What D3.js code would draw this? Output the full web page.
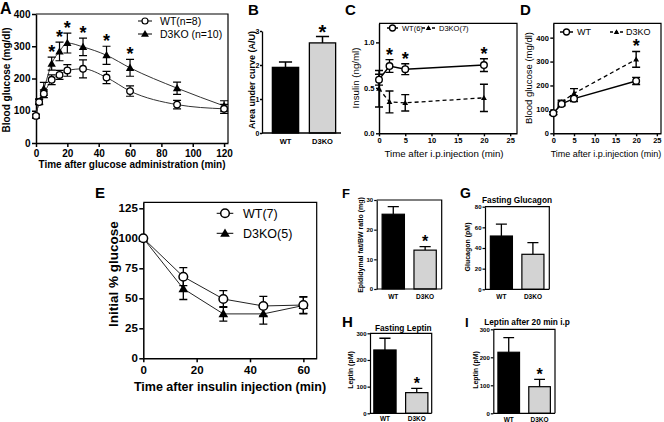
<!DOCTYPE html>
<html><head><meta charset="utf-8">
<script src="https://cdn.jsdelivr.net/npm/d3@7"></script>
<style>
body{margin:0;background:#fff}
svg{display:block}
</style></head><body>
<svg id="c" width="664" height="422"></svg>
<script>
// ---------- DATA ----------
const groups = ["WT", "D3KO"];
// A: glucose tolerance
const timesA = [0, 2, 5, 10, 15, 20, 30, 45, 60, 90, 120];
const wtA = [84, 127, 153, 196, 211, 225, 230, 203, 161, 119, 106];
const wtAErr = [5, 8, 12, 15, 14, 18, 28, 19, 16, 13, 14];
const koA = [84, 129, 168, 246, 284, 310, 298, 272, 233, 170, 115];
const koAErr = [5, 8, 20, 20, 29, 31, 27, 28, 26, 19, 16];
const starsA = [10, 15, 20, 30, 45, 60];
const ticksAx = [0, 20, 40, 60, 80, 100, 120];
const ticksAy = [0, 100, 200, 300, 400];
// B: area under curve
const aucB = [1.93, 2.65];
const aucBErr = [0.16, 0.19];
const ticksBy = [0, 1, 2, 3];
// C: insulin
const timesCD = [0, 2, 5, 20];
const wtC = [0.59, 0.74, 0.705, 0.75];
const wtCErr = [0.06, 0.07, 0.06, 0.07];
const koC = [0.49, 0.345, 0.335, 0.39];
const koCErr = [0.2, 0.12, 0.09, 0.15];
const starsC = [2, 5, 20];
const ticksCDx = [0, 5, 10, 15, 20, 25];
const ticksCy = [0, 0.5, 1.0];
// D: blood glucose after i.p.
const wtD = [84, 123, 145, 219];
const wtDErr = [6, 8, 12, 15];
const koD = [84, 130, 167, 309];
const koDErr = [6, 8, 20, 33];
const starsD = [20];
const ticksDy = [0, 100, 200, 300, 400];
// E: insulin tolerance
const timesE = [0, 15, 30, 45, 60];
const wtE = [100, 68, 49.4, 43.6, 44.4];
const wtEErr = [0, 7.5, 7, 8, 7];
const koE = [100, 58, 37, 37, 44];
const koEErr = [0, 9, 6, 8.5, 7];
const ticksEx = [0, 20, 40, 60];
const ticksEy = [0, 25, 50, 75, 100, 125];
// F-I bars
const fatF = [25.2, 13.1], fatFErr = [2.6, 1.2], ticksFy = [0, 10, 20, 30];
const glucagonG = [51.6, 33.9], glucagonGErr = [11.6, 11.3], ticksGy = [0, 20, 40, 60, 80];
const leptinH = [237.5, 77.5], leptinHErr = [44, 16], ticksHy = [0, 100, 200, 300];
const leptinI = [218, 95], leptinIErr = [52, 26], ticksIy = [0, 100, 200, 300];

// ---------- DRAWING ----------
const FONT = '"Liberation Sans", Arial, Helvetica, sans-serif';
const svg = d3.select("#c").attr("font-family", FONT);

function text(x, y, s, size, bold, anchor) {
  return svg.append("text").attr("x", x).attr("y", y).text(s)
    .attr("font-size", size).attr("font-weight", bold ? "bold" : "normal")
    .attr("text-anchor", anchor || "start").attr("fill", "#000");
}
function vtext(x, y, s, size, bold) {
  return svg.append("text").attr("transform", `translate(${x},${y}) rotate(-90)`)
    .attr("text-anchor", "middle").text(s)
    .attr("font-size", size).attr("font-weight", bold ? "bold" : "normal").attr("fill", "#000");
}
function styleAxis(g, fs, bold, sw) {
  g.attr("font-family", FONT).attr("font-size", fs);
  g.select(".domain").attr("stroke", "#000").attr("stroke-width", sw);
  g.selectAll(".tick line").attr("stroke", "#000").attr("stroke-width", sw);
  g.selectAll(".tick text").attr("fill", "#000").attr("font-weight", bold ? "bold" : "normal");
}
function star(x, cy, size) {
  text(x, cy + size * 0.55, "*", size, true, "middle");
}
function marker(g, type, cx, cy, s, sw) {
  if (type === "circle") {
    g.append("circle").attr("cx", cx).attr("cy", cy).attr("r", s)
      .attr("fill", "#fff").attr("stroke", "#000").attr("stroke-width", sw);
  } else {
    g.append("path").attr("d", d3.symbol(d3.symbolTriangle, s * s * 1.9)())
      .attr("transform", `translate(${cx},${cy + s * 0.15})`).attr("fill", "#000");
  }
}

function linePanel(o) {
  const x = d3.scaleLinear().domain(o.xd).range([o.L, o.R]);
  const y = d3.scaleLinear().domain(o.yd).range([o.B, o.T]);
  const g = svg.append("g");
  g.append("path").attr("d", `M${o.L},${o.T}H${o.R}V${o.B}`).attr("fill", "none")
    .attr("stroke", "#000").attr("stroke-width", o.boxW);
  const gx = g.append("g").attr("transform", `translate(0,${o.B})`)
    .call(d3.axisBottom(x).tickValues(o.xt).tickSize(o.tick).tickSizeOuter(0).tickPadding(o.xpad));
  styleAxis(gx, o.tfs, true, o.axW);
  const gy = g.append("g").attr("transform", `translate(${o.L},0)`)
    .call(d3.axisLeft(y).tickValues(o.yt).tickSize(o.tick).tickSizeOuter(0).tickPadding(o.ypad)
      .tickFormat(o.yfmt || d3.format("d")));
  styleAxis(gy, o.tfs, true, o.axW);
  o.series.forEach(s => {
    const pts = s.t.map((t, i) => [x(t), y(s.v[i])]);
    g.append("path").attr("d", d3.line().curve(o.curve || d3.curveLinear)(pts))
      .attr("fill", "none").attr("stroke", o.lineColor || "#000").attr("stroke-width", s.lw)
      .attr("stroke-dasharray", s.dash || null);
  });
  o.series.forEach(s => {
    s.t.forEach((t, i) => {
      const e = s.e[i]; if (!e) return;
      const cx = x(t), y1 = y(s.v[i] + e), y2 = y(s.v[i] - e), c = o.cap / 2;
      g.append("path").attr("d", `M${cx},${y1}V${y2}M${cx - c},${y1}H${cx + c}M${cx - c},${y2}H${cx + c}`)
        .attr("fill", "none").attr("stroke", "#000").attr("stroke-width", o.errW);
    });
  });
  o.series.slice().reverse().forEach(s => {
    s.t.forEach((t, i) => marker(g, s.m, x(t), y(s.v[i]), s.ms, o.mW));
  });
  if (o.stars) o.stars.forEach(t => {
    const i = o.starSeries.t.indexOf(t);
    star(x(t), y(o.starSeries.v[i] + o.starSeries.e[i]) - o.starGap, o.starSize);
  });
  return { x, y };
}

function legendRow(x1, x2, y, type, ms, lw, dash, label, tx, fs, mW) {
  svg.append("path").attr("d", `M${x1},${y}H${x2}`).attr("stroke", "#000")
    .attr("stroke-width", lw).attr("stroke-dasharray", dash || null);
  marker(svg, type, (x1 + x2) / 2, y, ms, mW);
  text(tx, y + fs * 0.36, label, fs, false);
}

function barPanel(o) {
  const x = d3.scaleBand().domain(groups).range([o.L, o.R]).paddingInner(o.pi).paddingOuter(o.po);
  const y = d3.scaleLinear().domain(o.yd).range([o.B, o.T]);
  const g = svg.append("g");
  if (o.box) g.append("path").attr("d", `M${o.L},${o.T}H${o.R}V${o.B}`).attr("fill", "none")
    .attr("stroke", "#000").attr("stroke-width", o.boxW);
  const bw = x.bandwidth();
  groups.forEach((k, i) => {
    const cx = x(k) + bw / 2, top = y(o.v[i]), et = y(o.v[i] + o.e[i]);
    g.append("path").attr("d", `M${cx},${top}V${et}M${cx - bw * 0.25},${et}H${cx + bw * 0.25}`)
      .attr("stroke", "#000").attr("stroke-width", o.errW).attr("fill", "none");
    g.append("rect").attr("x", x(k)).attr("y", top).attr("width", bw).attr("height", o.B - top)
      .attr("fill", i === 0 ? "#000" : "#d3d3d3").attr("stroke", "#000").attr("stroke-width", o.barW);
    text(cx, o.labY, k, o.cfs, true, "middle");
  });
  g.append("path").attr("d", `M${o.L},${o.B}H${o.axR || o.R}`).attr("stroke", "#000").attr("stroke-width", o.axW);
  const gy = g.append("g").attr("transform", `translate(${o.L},0)`)
    .call(d3.axisLeft(y).tickValues(o.yt).tickSize(o.tick).tickSizeOuter(0).tickPadding(o.ypad != null ? o.ypad : 1).tickFormat(d3.format("d")));
  styleAxis(gy, o.tfs, true, o.axW);
  if (o.starIdx != null) {
    const k = groups[o.starIdx];
    star(x(k) + bw / 2, y(o.v[o.starIdx] + o.e[o.starIdx]) - o.starGap, o.starSize);
  }
  if (o.title) text(o.titleX, o.titleY, o.title, o.titleFs, true, "middle");
  vtext(o.ylx, o.yly, o.ylab, o.yfs, o.ybold !== false);
}

// ---- Panel A ----
const sA = [
  { t: timesA, v: wtA, e: wtAErr, m: "circle", ms: 3.3, lw: 1 },
  { t: timesA, v: koA, e: koAErr, m: "tri", ms: 4, lw: 1 }
];
linePanel({ L: 36, R: 228, T: 14, B: 143, xd: [0, 122.5], yd: [0, 400], xt: ticksAx, yt: ticksAy,
  tick: 4, xpad: 3, ypad: 1.5, tfs: 10, axW: 1.5, boxW: 1.2, errW: 1.2, cap: 8, mW: 1.3,
  curve: d3.curveMonotoneX, lineColor: "#333", series: sA,
  stars: starsA, starSeries: sA[1], starGap: 9, starSize: 18 });
text(132, 168, "Time after glucose administration (min)", 10, true, "middle");
vtext(10, 80, "Blood glucose (mg/dl)", 10, true);
legendRow(138, 152, 21, "circle", 3, 1, null, "WT(n=8)", 160, 10.5, 1.2);
legendRow(138, 152, 34, "tri", 3.8, 1, null, "D3KO (n=10)", 160, 10.5, 1.2);
text(0, 14, "A", 16, true);

// ---- Panel B ----
barPanel({ L: 262, R: 346, axR: 341, T: 31, B: 133, yd: [0, 3], yt: ticksBy, v: aucB, e: aucBErr,
  pi: 0.29, po: 0.28, box: false, tick: 2, ypad: 0.5, tfs: 7, axW: 1.3, barW: 1.3, errW: 1.5,
  cfs: 7.5, labY: 144, starIdx: 1, starGap: 8, starSize: 20,
  ylab: "Area under curve (A/U)", ylx: 254.5, yly: 80, yfs: 9 });
text(248, 15, "B", 15, true);

// ---- Panel C ----
const sC = [
  { t: timesCD, v: wtC, e: wtCErr, m: "circle", ms: 3.3, lw: 1.5 },
  { t: timesCD, v: koC, e: koCErr, m: "tri", ms: 2.8, lw: 1.3, dash: "4,3" }
];
linePanel({ L: 379, R: 517, T: 23.3, B: 133.3, xd: [0, 26.3], yd: [0, 1.21], xt: ticksCDx, yt: ticksCy,
  yfmt: d3.format(".1f"), tick: 3, xpad: 1.5, ypad: 1.5, tfs: 7.5, axW: 1.4, boxW: 1.2, errW: 1.4, cap: 8, mW: 1.4,
  series: sC, stars: starsC, starSeries: sC[0], starGap: 9, starSize: 18 });
text(444, 157, "Time after i.p.injection (min)", 9.7, false, "middle");
vtext(358.5, 78, "Insulin (ng/ml)", 9.7, false);
legendRow(387, 398, 28, "circle", 3, 1.5, null, "WT(6)", 402, 7.5, 1.3);
legendRow(422, 435, 28, "tri", 2.6, 1.3, "3,2", "D3KO(7)", 439, 7.5, 1.3);
text(345, 15, "C", 15, true);

// ---- Panel D ----
const sD = [
  { t: timesCD, v: wtD, e: wtDErr, m: "circle", ms: 3.3, lw: 1.5 },
  { t: timesCD, v: koD, e: koDErr, m: "tri", ms: 2.8, lw: 1.3, dash: "4,3" }
];
linePanel({ L: 553.3, R: 661, T: 23.3, B: 133.3, xd: [0, 26], yd: [0, 460], xt: ticksCDx, yt: ticksDy,
  tick: 3, xpad: 1.5, ypad: 1.5, tfs: 7.5, axW: 1.4, boxW: 1.2, errW: 1.4, cap: 8, mW: 1.4,
  series: sD, stars: starsD, starSeries: sD[1], starGap: 9, starSize: 18 });
text(606, 157, "Time after i.p.injection (min)", 9, false, "middle");
vtext(532, 78, "Blood glucose (mg/dl)", 9.5, false);
legendRow(560, 573, 32, "circle", 3, 1.5, null, "WT", 577, 9, 1.3);
legendRow(610, 623, 32, "tri", 2.6, 1.3, "3,2", "D3KO", 626, 9, 1.3);
text(520, 15, "D", 15, true);

// ---- Panel E ----
const sE = [
  { t: timesE, v: wtE, e: wtEErr, m: "circle", ms: 4.3, lw: 1 },
  { t: timesE, v: koE, e: koEErr, m: "tri", ms: 4.6, lw: 1 }
];
linePanel({ L: 143.3, R: 316.7, T: 202.3, B: 358.3, xd: [0, 65], yd: [0, 130], xt: ticksEx, yt: ticksEy,
  tick: 4, xpad: 4, ypad: 1.5, tfs: 11.5, axW: 1.5, boxW: 1.2, errW: 1.3, cap: 8, mW: 1.5,
  lineColor: "#222", series: sE });
text(230, 391, "Time after insulin injection (min)", 12.5, true, "middle");
vtext(118, 274, "Initial % glucose", 13.5, true);
legendRow(216.7, 233.3, 213.3, "circle", 4.3, 1, null, "WT(7)", 243, 12.5, 1.5);
legendRow(216.7, 233.3, 233.3, "tri", 4.6, 1, null, "D3KO(5)", 243, 12.5, 1.5);
text(95, 198, "E", 15, true);

// ---- Panel F ----
barPanel({ L: 376.7, R: 441.7, T: 200, B: 289, yd: [0, 30], yt: ticksFy, v: fatF, e: fatFErr,
  pi: 0.3, po: 0.17, box: true, boxW: 1.2, tick: 2.5, tfs: 6, axW: 1.2, barW: 1.2, errW: 1.3,
  cfs: 6.5, labY: 299, starIdx: 1, starGap: 8, starSize: 16,
  ylab: "Epididymal fat/BW ratio (mg)", ylx: 362.5, yly: 245, yfs: 7 });
text(342, 198, "F", 13, true);

// ---- Panel G ----
barPanel({ L: 485, R: 549.3, T: 206.7, B: 289.3, yd: [0, 80], yt: ticksGy, v: glucagonG, e: glucagonGErr,
  pi: 0.3, po: 0.17, box: true, boxW: 1.2, tick: 2.5, tfs: 6, axW: 1.2, barW: 1.2, errW: 1.3,
  cfs: 6.5, labY: 299, title: "Fasting Glucagon", titleX: 517, titleY: 202.5, titleFs: 8.3,
  ylab: "Glucagon (pM)", ylx: 469.5, yly: 247, yfs: 7 });
text(460, 198, "G", 14, true);

// ---- Panel H ----
barPanel({ L: 370, R: 431.7, T: 333.3, B: 413.3, yd: [0, 300], yt: ticksHy, v: leptinH, e: leptinHErr,
  pi: 0.3, po: 0.12, box: true, boxW: 1.2, tick: 2.5, tfs: 6, axW: 1.2, barW: 1.2, errW: 1.3,
  cfs: 6.5, labY: 421, starIdx: 1, starGap: 8, starSize: 16,
  title: "Fasting Leptin", titleX: 403.3, titleY: 331, titleFs: 8.3,
  ylab: "Leptin (pM)", ylx: 352.5, yly: 370, yfs: 7 });
text(342, 327, "H", 15, true);

// ---- Panel I ----
barPanel({ L: 493.3, R: 555, T: 329.3, B: 413.3, yd: [0, 300], yt: ticksIy, v: leptinI, e: leptinIErr,
  pi: 0.3, po: 0.15, box: true, boxW: 1.2, tick: 2.5, tfs: 6, axW: 1.2, barW: 1.2, errW: 1.3,
  cfs: 6.5, labY: 421.5, starIdx: 1, starGap: 8, starSize: 16,
  title: "Leptin after 20 min i.p", titleX: 527, titleY: 325, titleFs: 8.3,
  ylab: "Leptin (pM)", ylx: 477.5, yly: 370, yfs: 7 });
text(465, 327, "I", 13, true);
</script>
</body></html>
